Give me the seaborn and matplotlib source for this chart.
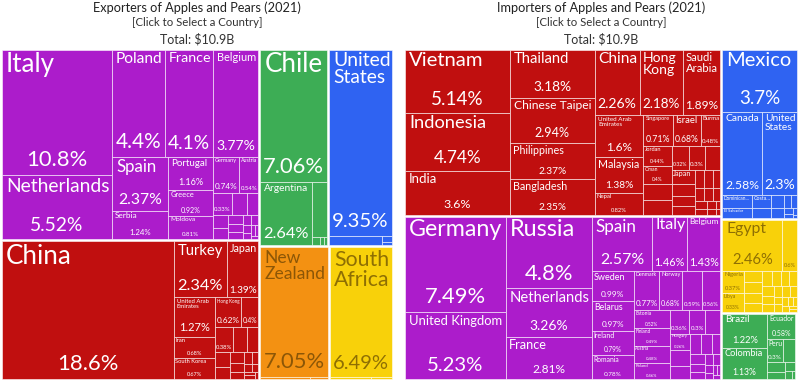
import numpy as np
import matplotlib
matplotlib.use("Agg")
import matplotlib.pyplot as plt
from matplotlib.patches import Rectangle
from matplotlib.textpath import TextPath
from matplotlib.font_manager import FontProperties
import seaborn as sns

# ---------------- exporters (share of world trade, %) ----------------
exp_europe_names = ["Italy", "Netherlands", "Poland", "France", "Belgium", "Spain", "Serbia",
                    "Portugal", "Greece", "Moldova", "Germany", "Austria"] + [""] * 15
exp_europe_vals = [10.8, 5.52, 4.4, 4.1, 3.77, 2.37, 1.24, 1.16, 0.92, 0.81, 0.74, 0.54,
                   0.33, 0.25, 0.2, 0.16, 0.13, 0.11, 0.09, 0.08, 0.07, 0.06, 0.05, 0.04, 0.03, 0.03, 0.02]
exp_asia_names = ["China", "Turkey", "Japan", "United Arab Emirates", "Iran", "South Korea",
                  "Hong Kong"] + [""] * 16
exp_asia_vals = [18.6, 2.34, 1.39, 1.27, 0.68, 0.67, 0.62, 0.4, 0.38, 0.28, 0.22, 0.18, 0.14,
                 0.12, 0.1, 0.08, 0.07, 0.06, 0.05, 0.04, 0.03, 0.03, 0.02]
exp_samerica_names = ["Chile", "Argentina", "", "", "", ""]
exp_samerica_vals = [7.06, 2.64, 0.65, 0.05, 0.03, 0.02]
exp_namerica_names = ["United States", "", "", ""]
exp_namerica_vals = [9.35, 0.4, 0.05, 0.03]
exp_oceania_names = ["New Zealand", "", ""]
exp_oceania_vals = [7.05, 0.08, 0.03]
exp_africa_names = ["South Africa", "", ""]
exp_africa_vals = [6.49, 0.06, 0.03]

# ---------------- importers ----------------
imp_asia_names = ["Vietnam", "Indonesia", "India", "Thailand", "Chinese Taipei", "Philippines",
                  "Bangladesh", "China", "Hong Kong", "Saudi Arabia", "United Arab Emirates",
                  "Malaysia", "Nepal", "Singapore", "Israel", "Burma", "Jordan", "Oman",
                  "", "", "", "", "", "Japan"] + [""] * 15
imp_asia_vals = [5.14, 4.74, 3.6, 3.18, 2.94, 2.37, 2.35, 2.26, 2.18, 1.89, 1.6, 1.38, 0.82,
                 0.71, 0.68, 0.48, 0.44, 0.4, 0.35, 0.33, 0.32, 0.3, 0.28, 0.26, 0.2, 0.18,
                 0.16, 0.14, 0.12, 0.11, 0.1, 0.09, 0.08, 0.07, 0.06, 0.05, 0.04, 0.03, 0.02]
imp_europe_names = ["Germany", "United Kingdom", "Russia", "Netherlands", "France", "Spain",
                    "Italy", "Belgium", "Sweden", "Belarus", "Ireland", "Romania", "Denmark",
                    "Norway", "", "", "Estonia", "Finland", "Austria", "Poland", "", "", "",
                    "Hungary"] + [""] * 15
imp_europe_vals = [7.49, 5.23, 4.8, 3.26, 2.81, 2.57, 1.46, 1.43, 0.99, 0.97, 0.79, 0.78, 0.77,
                   0.68, 0.59, 0.56, 0.52, 0.49, 0.48, 0.46, 0.36, 0.3, 0.28, 0.26, 0.24, 0.21,
                   0.18, 0.16, 0.14, 0.12, 0.1, 0.08, 0.07, 0.06, 0.05, 0.04, 0.03, 0.03, 0.02]
imp_namerica_names = ["Mexico", "Canada", "United States", "Dominican Republic", "El Salvador",
                      "Costa Rica"] + [""] * 9
imp_namerica_vals = [3.7, 2.58, 2.3, 0.3, 0.24, 0.2, 0.16, 0.13, 0.1, 0.08, 0.06, 0.04, 0.03, 0.02, 0.01]
imp_africa_names = ["Egypt", "", "Nigeria", "Libya"] + [""] * 22
imp_africa_vals = [2.46, 0.6, 0.37, 0.33, 0.16, 0.15, 0.14, 0.13, 0.12, 0.11, 0.1, 0.1, 0.09,
                   0.08, 0.08, 0.07, 0.06, 0.06, 0.05, 0.05, 0.04, 0.04, 0.03, 0.03, 0.02, 0.02]
imp_samerica_names = ["Brazil", "Colombia", "Ecuador", "Peru"] + [""] * 6
imp_samerica_vals = [1.22, 1.13, 0.58, 0.3, 0.22, 0.14, 0.1, 0.07, 0.05, 0.02]
imp_oceania_names = ["", "", ""]
imp_oceania_vals = [0.05, 0.03, 0.02]

colors = {"Europe": "#AC1CCB", "Asia": "#C00F0F", "South America": "#3DAD55",
          "North America": "#2F63F2", "Oceania": "#F39112", "Africa": "#F8D10A"}
dark_text = {"Oceania", "Africa"}

exporters = {"Europe": (exp_europe_names, exp_europe_vals), "Asia": (exp_asia_names, exp_asia_vals),
             "South America": (exp_samerica_names, exp_samerica_vals),
             "North America": (exp_namerica_names, exp_namerica_vals),
             "Oceania": (exp_oceania_names, exp_oceania_vals), "Africa": (exp_africa_names, exp_africa_vals)}
importers = {"Asia": (imp_asia_names, imp_asia_vals), "Europe": (imp_europe_names, imp_europe_vals),
             "North America": (imp_namerica_names, imp_namerica_vals),
             "Africa": (imp_africa_names, imp_africa_vals),
             "South America": (imp_samerica_names, imp_samerica_vals),
             "Oceania": (imp_oceania_names, imp_oceania_vals)}

PHI = (1 + 5 ** 0.5) / 2


def squarify(values, x0, y0, x1, y1, ratio=PHI):
    # same row logic as d3.treemapSquarify
    rects = []
    value = sum(values)
    n = len(values)
    i0 = i1 = 0
    while i0 < n:
        dx, dy = x1 - x0, y1 - y0
        s = values[i1]
        i1 += 1
        vmin = vmax = s
        alpha = max(dy / dx, dx / dy) / (value * ratio)
        beta = s * s * alpha
        best = max(vmax / beta, beta / vmin)
        while i1 < n:
            v = values[i1]
            s += v
            vmin, vmax = min(vmin, v), max(vmax, v)
            beta = s * s * alpha
            r = max(vmax / beta, beta / vmin)
            if r > best:
                s -= v
                break
            best = r
            i1 += 1
        row = values[i0:i1]
        if dx < dy:
            ye = y0 + dy * s / value
            xx = x0
            for v in row:
                rects.append((xx, y0, xx + (x1 - x0) * v / s, ye))
                xx += (x1 - x0) * v / s
            y0 = ye
        else:
            xe = x0 + dx * s / value
            yy = y0
            for v in row:
                rects.append((x0, yy, xe, yy + (y1 - y0) * v / s))
                yy += (y1 - y0) * v / s
            x0 = xe
        value -= s
        i0 = i1
    return rects


FP = FontProperties(family="Lato")
_wcache = {}


def tw(s, px):
    if s not in _wcache:
        _wcache[s] = TextPath((0, 0), s, size=100, prop=FP).get_extents().width / 100
    return _wcache[s] * px


def wrap(name, px, width):
    lines, cur = [], ""
    for w in name.split():
        if tw(w, px) > width:
            return None
        t = (cur + " " + w).strip()
        if tw(t, px) <= width:
            cur = t
        else:
            lines.append(cur)
            cur = w
    lines.append(cur)
    return lines


GRID = np.arange(26, 3.9, -0.25)


def label(ax, x0, y0, x1, y1, name, val, tc):
    w, h = x1 - x0, y1 - y0
    pad = min(4, max(1.5, 0.08 * min(w, h)))
    W = w - 2 * pad
    extra = 2 * pad + 2
    pct = f"{val:.3g}%"
    if not name:
        p = min(22, W / tw(pct, 1), (h - extra - 6) / 1.4)
        if p >= 4.5:
            ax.text((x0 + x1) / 2, y1 - pad - 0.22 * p - 1, pct, ha="center", va="baseline",
                    color=tc, fontsize=p * 0.72)
        return
    p = min(22, W / tw(pct, 1), (h - extra) / 2.8)
    avail = h - extra - 1.4 * p if p >= 4 else h - extra
    s, lines = 0, None
    for cand in [name, name.split()[0] + "..."]:
        for c in GRID:
            ln = wrap(cand, c, W)
            if ln and len(ln) * c * 1.3 <= avail:
                s, lines = c, ln
                break
        if s:
            break
    if not s:
        return
    ax.text(x0 + pad, y0 + pad * 0.6, "\n".join(lines), ha="left", va="top", color=tc,
            fontsize=s * 0.72, linespacing=1.0)
    if p >= 4 and not lines[-1].endswith("..."):
        ax.text((x0 + x1) / 2, y1 - pad - 0.22 * p, pct, ha="center", va="baseline", color=tc,
                fontsize=p * 0.72)


def draw_panel(ax, data, x0, y0, x1, y1):
    groups = sorted(data.items(), key=lambda kv: -sum(kv[1][1]))
    totals = [sum(v[1]) for _, v in groups]
    for (cont, (names, vals)), r in zip(groups, squarify(totals, x0, y0, x1, y1)):
        gx0, gy0, gx1, gy1 = r[0] + 1, r[1] + 1, r[2] - 1, r[3] - 1
        order = np.argsort(vals, kind="stable")[::-1]
        sv = [vals[i] for i in order]
        sn = [names[i] for i in order]
        tc = (0.3, 0.2, 0.0, 0.62) if cont in dark_text else "white"
        for (cx0, cy0, cx1, cy1), nm, v in zip(squarify(sv, gx0, gy0, gx1, gy1), sn, sv):
            ax.add_patch(Rectangle((cx0, cy0), cx1 - cx0, cy1 - cy0, facecolor=colors[cont],
                                   edgecolor=(1, 1, 1, 0.55), linewidth=0.7))
            label(ax, cx0, cy0, cx1, cy1, nm, v, tc)


sns.set_theme(style="white")
plt.rcParams["font.family"] = ["Lato", "DejaVu Sans"]

fig = plt.figure(figsize=(8, 3.82), dpi=100)
ax = fig.add_axes([0, 0, 1, 1])
ax.set_xlim(0, 800)
ax.set_ylim(382, 0)
ax.axis("off")

draw_panel(ax, exporters, 1, 49, 393, 380)
draw_panel(ax, importers, 404, 49, 798, 380)

for cx, kind in [(197, "Exporters"), (601, "Importers")]:
    ax.text(cx, 8, f"{kind} of Apples and Pears (2021)", ha="center", va="center",
            fontsize=9.2, color="#222222")
    ax.text(cx, 23, "[Click to Select a Country]", ha="center", va="center",
            fontsize=8.2, color="#333333")
    ax.text(cx, 39, "Total: $10.9B", ha="center", va="center", fontsize=9.0, color="#333333")

fig.savefig("out.png", dpi=100)
